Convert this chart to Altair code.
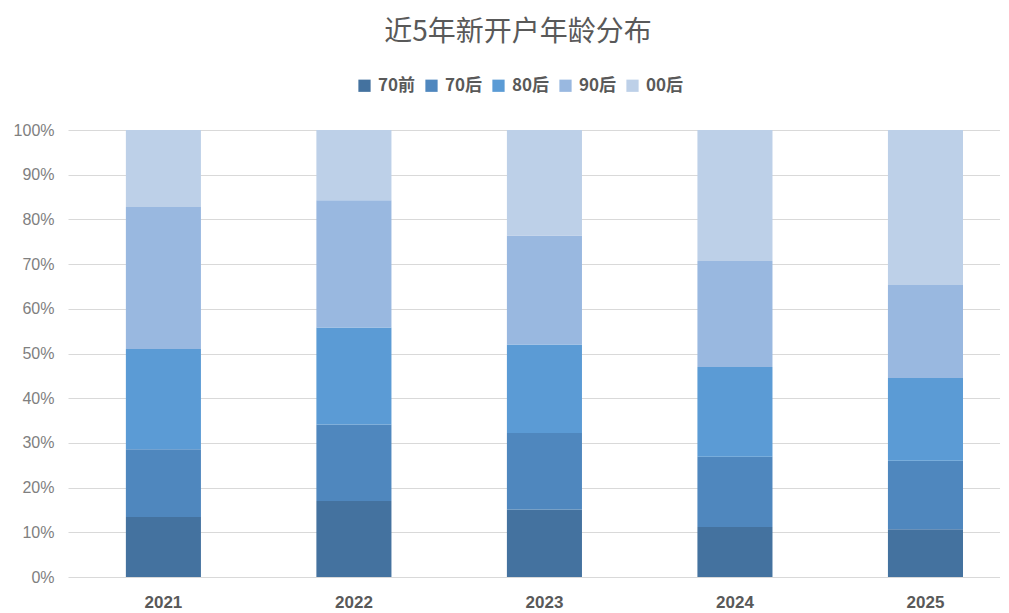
import altair as alt
import pandas as pd

years = ["2021", "2022", "2023", "2024", "2025"]
groups = ["70前", "70后", "80后", "90后", "00后"]
colors = ["#44729f", "#4f87be", "#5b9bd5", "#99b8e0", "#bdd0e8"]

s_70qian = [13.4, 17.0, 15.1, 11.2, 10.7]
s_70hou = [15.2, 17.1, 17.1, 15.7, 15.3]
s_80hou = [22.4, 21.7, 19.8, 20.1, 18.5]
s_90hou = [31.8, 28.5, 24.4, 23.7, 20.8]
s_00hou = [17.2, 15.7, 23.6, 29.3, 34.7]

series = [s_70qian, s_70hou, s_80hou, s_90hou, s_00hou]
rows = []
for gi, (g, vals) in enumerate(zip(groups, series)):
    for y, v in zip(years, vals):
        rows.append({"year": y, "group": g, "order": gi, "value": v / 100.0})
df = pd.DataFrame(rows)

tick_vals = [i / 10 for i in range(11)]

chart = alt.Chart(df).mark_bar().encode(
    x=alt.X("year:N", sort=years,
            scale=alt.Scale(paddingInner=0.606, paddingOuter=0.249, align=0.61),
            axis=alt.Axis(title=None, labelAngle=0, domain=False, ticks=False,
                          labelFont="Liberation Sans", labelFontSize=17,
                          labelFontWeight="bold", labelColor="#595959",
                          labelPadding=17, grid=False)),
    y=alt.Y("value:Q", stack="zero",
            scale=alt.Scale(domain=[0, 1], nice=False),
            axis=alt.Axis(title=None, values=tick_vals, format=".0%",
                          domain=False, ticks=False, labelPadding=14,
                          labelFont="Liberation Sans", labelFontSize=16,
                          labelColor="#808080", gridColor="#d9d9d9",
                          gridWidth=1.2)),
    color=alt.Color("group:N", sort=groups,
                    scale=alt.Scale(domain=groups, range=colors),
                    legend=alt.Legend(title=None, orient="none", direction="horizontal",
                                      legendX=288, legendY=-53,
                                      symbolType="square", symbolSize=150,
                                      symbolStrokeWidth=0,
                                      labelFont="Noto Sans CJK SC", labelFontSize=17,
                                      labelFontWeight="bold", labelColor="#595959",
                                      labelOffset=5, columnPadding=7)),
    order=alt.Order("order:Q", sort="ascending"),
).properties(
    width=932,
    height=447,
    autosize=alt.AutoSizeParams(type="none"),
    padding={"left": 60, "top": 122, "right": 0, "bottom": 34},
    title=alt.TitleParams("近5年新开户年龄分布", font="Noto Sans CJK SC", fontSize=28,
                          fontWeight="normal", color="#595959", anchor="middle",
                          dx=-16, offset=30),
).configure_view(stroke=None)

chart.save("out.html", embed_options={"renderer": "svg", "actions": False})
